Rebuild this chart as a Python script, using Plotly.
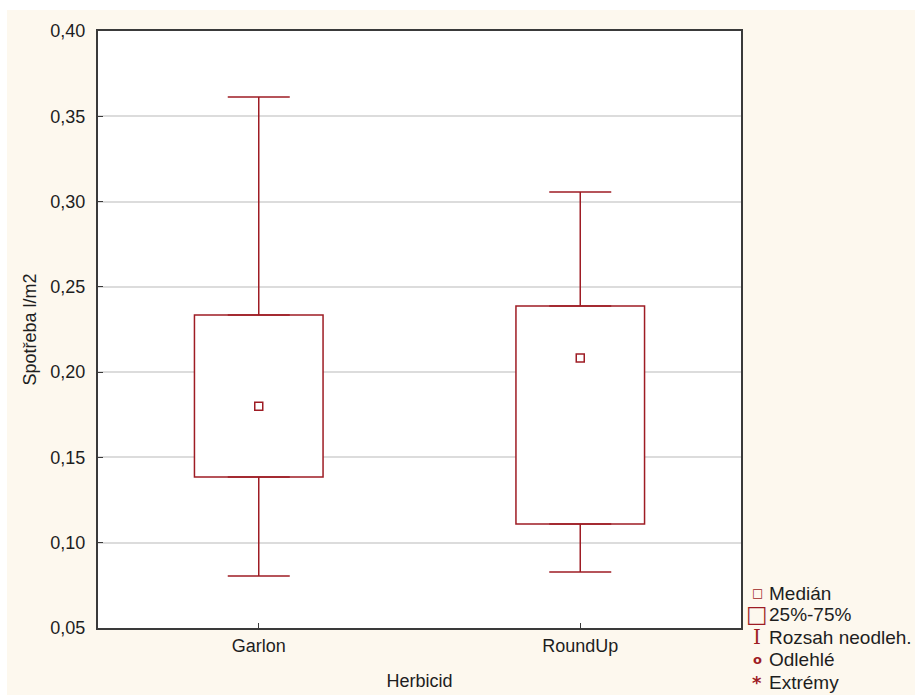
import plotly.graph_objects as go

categories = ["Garlon", "RoundUp"]
q1 = [0.1385, 0.111]
median = [0.180, 0.2083]
q3 = [0.2335, 0.2388]
whisker_low = [0.0805, 0.0828]
whisker_high = [0.3613, 0.3056]

legend_labels = ["Medián", "25%-75%", "Rozsah neodleh.", "Odlehlé", "Extrémy"]

RED = "#9E1C24"
TXT = "#1E1E1E"
FONT = "Liberation Sans, Arial, sans-serif"

fig = go.Figure()

# Box (25%-75%)
fig.add_trace(go.Bar(
    x=categories, y=[b - a for a, b in zip(q1, q3)], base=q1, width=0.4,
    marker=dict(color="white", line=dict(color=RED, width=1.5)),
    showlegend=False, hoverinfo="skip"))

# Upper whiskers
fig.add_trace(go.Scatter(
    x=categories, y=q3, mode="markers", marker=dict(size=0.1, color=RED, opacity=0),
    error_y=dict(type="data", symmetric=False,
                 array=[h - t for h, t in zip(whisker_high, q3)],
                 arrayminus=[0, 0], color=RED, thickness=1.5, width=31),
    showlegend=False, hoverinfo="skip"))
# Lower whiskers
fig.add_trace(go.Scatter(
    x=categories, y=q1, mode="markers", marker=dict(size=0.1, color=RED, opacity=0),
    error_y=dict(type="data", symmetric=False,
                 array=[0, 0],
                 arrayminus=[b - l for b, l in zip(q1, whisker_low)],
                 color=RED, thickness=1.5, width=31),
    showlegend=False, hoverinfo="skip"))
# Median
fig.add_trace(go.Scatter(
    x=categories, y=median, mode="markers",
    marker=dict(symbol="square-open", size=8, color=RED, line=dict(width=1.5)),
    showlegend=False, hoverinfo="skip"))

L, R, T, B = 98, 174, 31, 67
W, H = 915, 695
pw, ph = W - L - R, H - T - B

def px2x(px):
    return (px - L) / pw

def py2y(py):
    return (H - B - py) / ph

shapes = [
    dict(type="rect", xref="paper", yref="paper", layer="below",
         x0=px2x(7), x1=px2x(W + 5), y0=py2y(H + 5), y1=py2y(10),
         fillcolor="#FDF8EE", line=dict(width=0)),
    dict(type="rect", xref="paper", yref="paper", layer="below",
         x0=0, x1=1, y0=0, y1=1, fillcolor="white", line=dict(width=0)),
]

annotations = []
sym_specs = [
    ("<b>□</b>", 12, "DejaVu Sans"),
    ("□", 23, "DejaVu Sans"),
    ("I", 20, "DejaVu Serif"),
    ("<b>o</b>", 13, "DejaVu Sans"),
    ("<b>*</b>", 18, "DejaVu Sans"),
]
rows = [593, 614, 637, 659, 682]
for (sym, sz, fam), lab, ry in zip(sym_specs, legend_labels, rows):
    annotations.append(dict(xref="paper", yref="paper", x=px2x(757), y=py2y(ry),
                            text=sym, showarrow=False, xanchor="center", yanchor="middle",
                            font=dict(family=fam, size=sz, color=RED)))
    annotations.append(dict(xref="paper", yref="paper", x=px2x(767), y=py2y(ry),
                            text=lab, showarrow=False, xanchor="left", yanchor="middle",
                            font=dict(family=FONT, size=19, color=TXT)))

fig.update_layout(
    width=W, height=H,
    margin=dict(l=L, r=R, t=T, b=B, autoexpand=False),
    paper_bgcolor="white", plot_bgcolor="white",
    separators=",.",
    font=dict(family=FONT, size=18, color=TXT),
    shapes=shapes, annotations=annotations,
    showlegend=False,
    xaxis=dict(type="category", range=[-0.5, 1.5], showline=True, linecolor="#3A3A3A",
               linewidth=2, mirror=True, ticks="inside", ticklen=5, tickcolor="#3A3A3A",
               showgrid=False, zeroline=False, tickfont=dict(size=18), automargin=False,
               title=dict(text="Herbicid", font=dict(size=18), standoff=20)),
    yaxis=dict(range=[0.05, 0.40], dtick=0.05, tick0=0.05, tickformat=".2f",
               showline=True, linecolor="#3A3A3A", linewidth=2, mirror=True,
               ticks="inside", ticklen=5, tickcolor="#3A3A3A", tickfont=dict(size=18),
               ticklabelstandoff=7, automargin=False,
               showgrid=True, gridcolor="#DCDCDC", gridwidth=1.5, zeroline=False,
               title=dict(text="Spotřeba l/m2", font=dict(size=18), standoff=9)),
)

fig.write_html("out.html")
